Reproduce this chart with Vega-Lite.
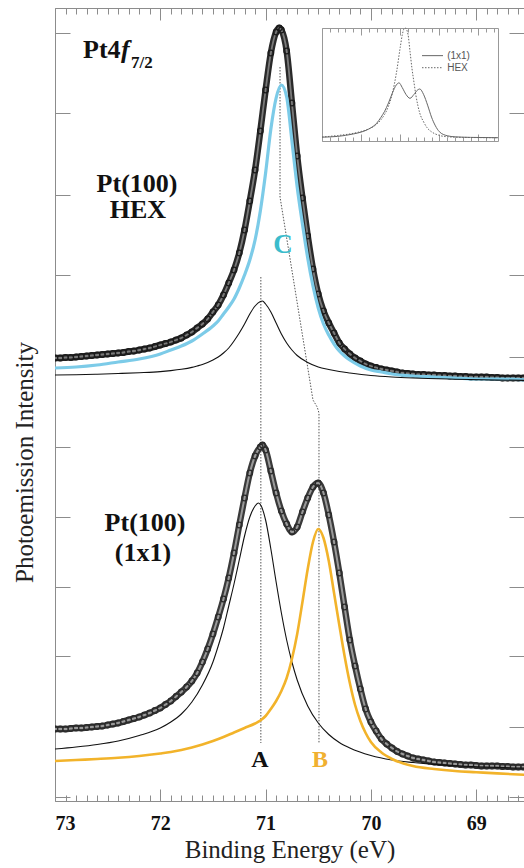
{
"$schema": "https://vega.github.io/schema/vega-lite/v6.json",
"width": 469, "height": 793,
"autosize": {"type": "none"},
"padding": {"left": 55, "top": 8, "right": 0, "bottom": 67},
"background": "white",
"config": {"view": {"stroke": null}, "axis": {"grid": false, "domainColor": "#8c8c8c", "tickColor": "#8c8c8c", "domainWidth": 1, "tickWidth": 1}},
"datasets": {
"hexData": [
{"e":73.0,"i":443},{"e":72.95,"i":443},{"e":72.9,"i":443.5},{"e":72.85,"i":443.5},{"e":72.8,"i":444},{"e":72.75,"i":444.5},{"e":72.7,"i":445},{"e":72.65,"i":445.5},{"e":72.6,"i":446},{"e":72.55,"i":446.5},{"e":72.5,"i":447},{"e":72.45,"i":447.5},{"e":72.4,"i":448},{"e":72.35,"i":448.5},{"e":72.3,"i":449.5},{"e":72.25,"i":450},{"e":72.2,"i":451},{"e":72.15,"i":452},{"e":72.1,"i":453},{"e":72.05,"i":454.5},{"e":72.0,"i":456},{"e":71.95,"i":457.5},{"e":71.9,"i":459},{"e":71.85,"i":461},{"e":71.8,"i":463},{"e":71.75,"i":466},{"e":71.7,"i":469},{"e":71.65,"i":473},{"e":71.6,"i":477},{"e":71.55,"i":482},{"e":71.5,"i":489},{"e":71.45,"i":496},{"e":71.4,"i":506},{"e":71.35,"i":518},{"e":71.3,"i":531},{"e":71.25,"i":548},{"e":71.2,"i":571},{"e":71.15,"i":600},{"e":71.1,"i":631},{"e":71.05,"i":670},{"e":71.0,"i":711},{"e":70.95,"i":748},{"e":70.9,"i":769},{"e":70.87,"i":773},{"e":70.85,"i":771},{"e":70.8,"i":750},{"e":70.75,"i":698},{"e":70.7,"i":645},{"e":70.65,"i":603},{"e":70.6,"i":565},{"e":70.55,"i":532},{"e":70.5,"i":507},{"e":70.45,"i":490},{"e":70.4,"i":478},{"e":70.35,"i":468},{"e":70.3,"i":458},{"e":70.25,"i":452},{"e":70.2,"i":447},{"e":70.15,"i":443},{"e":70.1,"i":440},{"e":70.05,"i":437},{"e":70.0,"i":435},{"e":69.95,"i":433.5},{"e":69.9,"i":432},{"e":69.85,"i":431},{"e":69.8,"i":430},{"e":69.75,"i":429},{"e":69.7,"i":428},{"e":69.65,"i":427.5},{"e":69.6,"i":427},{"e":69.55,"i":426.5},{"e":69.5,"i":426.5},{"e":69.45,"i":426},{"e":69.4,"i":426},{"e":69.35,"i":425.5},{"e":69.3,"i":425.5},{"e":69.25,"i":425},{"e":69.2,"i":425},{"e":69.15,"i":424.5},{"e":69.1,"i":424.5},{"e":69.05,"i":424},{"e":69.0,"i":424},{"e":68.95,"i":424},{"e":68.9,"i":424},{"e":68.85,"i":423.5},{"e":68.8,"i":423.5},{"e":68.75,"i":423},{"e":68.7,"i":423},{"e":68.65,"i":423},{"e":68.6,"i":423},{"e":68.55,"i":423},{"e":68.5,"i":423}],
"hexCyan": [
{"e":73.0,"i":433},{"e":72.8,"i":434},{"e":72.6,"i":436},{"e":72.4,"i":439},{"e":72.2,"i":442},{"e":72.0,"i":447},{"e":71.9,"i":451},{"e":71.8,"i":455},{"e":71.7,"i":460},{"e":71.6,"i":467},{"e":71.5,"i":475},{"e":71.45,"i":480},{"e":71.4,"i":487},{"e":71.35,"i":494},{"e":71.3,"i":502},{"e":71.25,"i":513},{"e":71.2,"i":526},{"e":71.15,"i":541},{"e":71.1,"i":561},{"e":71.05,"i":590},{"e":71.0,"i":628},{"e":70.95,"i":672},{"e":70.9,"i":703},{"e":70.85,"i":716},{"e":70.8,"i":704},{"e":70.75,"i":660},{"e":70.7,"i":614},{"e":70.65,"i":577},{"e":70.6,"i":543},{"e":70.55,"i":515},{"e":70.5,"i":493},{"e":70.45,"i":477},{"e":70.4,"i":466},{"e":70.35,"i":457},{"e":70.3,"i":450},{"e":70.25,"i":445},{"e":70.2,"i":441},{"e":70.1,"i":435},{"e":70.0,"i":431},{"e":69.9,"i":429},{"e":69.8,"i":427},{"e":69.6,"i":425},{"e":69.4,"i":424},{"e":69.2,"i":423},{"e":69.0,"i":422},{"e":68.8,"i":422},{"e":68.5,"i":421}],
"hexComp": [
{"e":73.0,"i":426},{"e":72.8,"i":426.3},{"e":72.6,"i":426.8},{"e":72.4,"i":427.5},{"e":72.2,"i":428.3},{"e":72.0,"i":429.4},{"e":71.9,"i":430.4},{"e":71.8,"i":431.7},{"e":71.7,"i":433.6},{"e":71.65,"i":435},{"e":71.6,"i":436.5},{"e":71.55,"i":438.5},{"e":71.5,"i":441},{"e":71.45,"i":444},{"e":71.4,"i":448},{"e":71.35,"i":453},{"e":71.3,"i":460},{"e":71.25,"i":468},{"e":71.2,"i":477},{"e":71.15,"i":487},{"e":71.1,"i":495},{"e":71.05,"i":499.5},{"e":71.03,"i":500},{"e":71.0,"i":497},{"e":70.95,"i":489},{"e":70.9,"i":478},{"e":70.85,"i":467},{"e":70.8,"i":458},{"e":70.75,"i":451},{"e":70.7,"i":445.5},{"e":70.6,"i":438.5},{"e":70.5,"i":434},{"e":70.4,"i":431.5},{"e":70.3,"i":429.5},{"e":70.2,"i":428},{"e":70.0,"i":425.5},{"e":69.8,"i":424},{"e":69.6,"i":423},{"e":69.2,"i":421.8},{"e":68.8,"i":421},{"e":68.5,"i":420.5}],
"sqData": [
{"e":73.0,"i":72},{"e":72.95,"i":72},{"e":72.9,"i":72},{"e":72.85,"i":72.5},{"e":72.8,"i":73},{"e":72.75,"i":73},{"e":72.7,"i":73.5},{"e":72.65,"i":74},{"e":72.6,"i":74.5},{"e":72.55,"i":75},{"e":72.5,"i":76},{"e":72.45,"i":77},{"e":72.4,"i":78},{"e":72.35,"i":79.5},{"e":72.3,"i":81},{"e":72.25,"i":82.5},{"e":72.2,"i":84},{"e":72.15,"i":86},{"e":72.1,"i":88},{"e":72.05,"i":90.5},{"e":72.0,"i":93},{"e":71.95,"i":96.5},{"e":71.9,"i":100},{"e":71.85,"i":104.5},{"e":71.8,"i":109},{"e":71.75,"i":114},{"e":71.7,"i":120},{"e":71.65,"i":128},{"e":71.6,"i":139},{"e":71.55,"i":152},{"e":71.5,"i":167},{"e":71.45,"i":184},{"e":71.4,"i":202},{"e":71.35,"i":223},{"e":71.3,"i":248},{"e":71.25,"i":276},{"e":71.2,"i":303},{"e":71.15,"i":328},{"e":71.1,"i":345},{"e":71.05,"i":354},{"e":71.03,"i":356},{"e":71.0,"i":351},{"e":70.95,"i":330},{"e":70.9,"i":308},{"e":70.85,"i":290},{"e":70.8,"i":277},{"e":70.75,"i":269},{"e":70.7,"i":274},{"e":70.65,"i":289},{"e":70.6,"i":303},{"e":70.55,"i":314},{"e":70.5,"i":318},{"e":70.45,"i":308},{"e":70.4,"i":286},{"e":70.35,"i":259},{"e":70.3,"i":228},{"e":70.25,"i":194},{"e":70.2,"i":161},{"e":70.15,"i":135},{"e":70.1,"i":112},{"e":70.05,"i":92},{"e":70.0,"i":79},{"e":69.95,"i":70},{"e":69.9,"i":62},{"e":69.85,"i":57},{"e":69.8,"i":53},{"e":69.75,"i":49.5},{"e":69.7,"i":47},{"e":69.65,"i":45},{"e":69.6,"i":43},{"e":69.55,"i":42},{"e":69.5,"i":41},{"e":69.45,"i":40},{"e":69.4,"i":39},{"e":69.35,"i":38.5},{"e":69.3,"i":38},{"e":69.25,"i":37.5},{"e":69.2,"i":37},{"e":69.15,"i":36.5},{"e":69.1,"i":36},{"e":69.05,"i":36},{"e":69.0,"i":35.5},{"e":68.95,"i":35},{"e":68.9,"i":35},{"e":68.85,"i":35},{"e":68.8,"i":35},{"e":68.75,"i":34.5},{"e":68.7,"i":34.5},{"e":68.65,"i":34},{"e":68.6,"i":34},{"e":68.55,"i":34},{"e":68.5,"i":34}],
"sqA": [
{"e":73.0,"i":52},{"e":72.8,"i":54},{"e":72.6,"i":56.5},{"e":72.4,"i":60},{"e":72.2,"i":65.5},{"e":72.0,"i":73},{"e":71.9,"i":79},{"e":71.8,"i":87},{"e":71.7,"i":99},{"e":71.6,"i":116},{"e":71.5,"i":139},{"e":71.45,"i":155},{"e":71.4,"i":173},{"e":71.35,"i":195},{"e":71.3,"i":217},{"e":71.25,"i":241},{"e":71.2,"i":265},{"e":71.15,"i":284},{"e":71.1,"i":295},{"e":71.07,"i":298},{"e":71.05,"i":296.5},{"e":71.0,"i":281},{"e":70.95,"i":252},{"e":70.9,"i":219},{"e":70.85,"i":188},{"e":70.8,"i":161},{"e":70.75,"i":139},{"e":70.7,"i":121},{"e":70.6,"i":95},{"e":70.5,"i":78},{"e":70.4,"i":66.5},{"e":70.3,"i":58.5},{"e":70.2,"i":53},{"e":70.0,"i":45.5},{"e":69.8,"i":41},{"e":69.6,"i":38.5},{"e":69.4,"i":36.6},{"e":69.2,"i":35.3},{"e":69.0,"i":34.3},{"e":68.8,"i":33.6},{"e":68.6,"i":33},{"e":68.5,"i":33}],
"sqB": [
{"e":73.0,"i":40},{"e":72.8,"i":41},{"e":72.6,"i":42},{"e":72.4,"i":43.2},{"e":72.2,"i":45},{"e":72.0,"i":47.5},{"e":71.9,"i":49},{"e":71.8,"i":51},{"e":71.7,"i":53.5},{"e":71.6,"i":56.5},{"e":71.5,"i":60},{"e":71.4,"i":64},{"e":71.3,"i":68.5},{"e":71.2,"i":73},{"e":71.1,"i":77.5},{"e":71.05,"i":80.5},{"e":71.0,"i":85},{"e":70.95,"i":92},{"e":70.9,"i":100},{"e":70.85,"i":110},{"e":70.8,"i":123},{"e":70.75,"i":142},{"e":70.7,"i":167},{"e":70.65,"i":199},{"e":70.6,"i":232},{"e":70.55,"i":259},{"e":70.5,"i":272},{"e":70.45,"i":263},{"e":70.4,"i":240},{"e":70.35,"i":208},{"e":70.3,"i":176},{"e":70.25,"i":145},{"e":70.2,"i":118},{"e":70.15,"i":96},{"e":70.1,"i":80},{"e":70.05,"i":68},{"e":70.0,"i":59},{"e":69.9,"i":48.5},{"e":69.8,"i":42},{"e":69.6,"i":35},{"e":69.4,"i":32},{"e":69.2,"i":30},{"e":69.0,"i":28.8},{"e":68.8,"i":27.6},{"e":68.6,"i":26.5},{"e":68.5,"i":26}],
"ins1": [
{"e":73.0,"i":0.005},{"e":72.6,"i":0.012},{"e":72.2,"i":0.034},{"e":72.0,"i":0.051},{"e":71.8,"i":0.08},{"e":71.6,"i":0.133},{"e":71.5,"i":0.182},{"e":71.4,"i":0.24},{"e":71.3,"i":0.317},{"e":71.2,"i":0.408},{"e":71.1,"i":0.481},{"e":71.03,"i":0.5},{"e":70.95,"i":0.458},{"e":70.85,"i":0.393},{"e":70.75,"i":0.359},{"e":70.65,"i":0.394},{"e":70.55,"i":0.437},{"e":70.5,"i":0.444},{"e":70.4,"i":0.392},{"e":70.3,"i":0.297},{"e":70.2,"i":0.188},{"e":70.1,"i":0.108},{"e":70.0,"i":0.055},{"e":69.8,"i":0.018},{"e":69.6,"i":0.008},{"e":69.2,"i":0.003},{"e":68.5,"i":0.0}],
"insH": [
{"e":73.0,"i":0.006},{"e":72.6,"i":0.02},{"e":72.2,"i":0.04},{"e":72.0,"i":0.057},{"e":71.8,"i":0.081},{"e":71.6,"i":0.124},{"e":71.5,"i":0.161},{"e":71.4,"i":0.212},{"e":71.3,"i":0.288},{"e":71.2,"i":0.407},{"e":71.1,"i":0.585},{"e":71.0,"i":0.823},{"e":70.95,"i":0.933},{"e":70.9,"i":0.995},{"e":70.87,"i":1.0},{"e":70.8,"i":0.94},{"e":70.75,"i":0.787},{"e":70.7,"i":0.632},{"e":70.65,"i":0.508},{"e":70.6,"i":0.389},{"e":70.5,"i":0.224},{"e":70.4,"i":0.143},{"e":70.3,"i":0.085},{"e":70.2,"i":0.054},{"e":70.0,"i":0.021},{"e":69.8,"i":0.009},{"e":69.4,"i":0.003},{"e":68.5,"i":0.0}]
},
"layer": [
{
"encoding": {
"x": {"field": "e", "type": "quantitative", "scale": {"domain": [73, 68.546], "nice": false, "zero": false},
 "axis": {"orient": "bottom", "values": [73,72,71,70,69], "format": "d", "ticks": false, "labelFlush": true, "labelPadding": 12, "labelFont": "Liberation Serif", "labelFontSize": 20, "labelFontWeight": "bold", "labelColor": "#111", "title": "Binding Energy (eV)", "titleFont": "Liberation Serif", "titleFontSize": 25, "titleFontWeight": "normal", "titleColor": "#222", "titleBaseline": "alphabetic", "titleY": 56}},
"y": {"field": "i", "type": "quantitative", "scale": {"domain": [0, 793], "nice": false, "zero": false},
 "axis": {"orient": "left", "values": [768,688,606,526,444,354,284,214,145,74,4], "tickSize": -15, "labels": false, "title": "Photoemission Intensity", "titleFont": "Liberation Serif", "titleFontSize": 25, "titleFontWeight": "normal", "titleColor": "#222", "titleX": -23, "titleY": 454, "titleAlign": "center", "titleBaseline": "alphabetic", "titleAngle": -90}}
},
"layer": [
{"data": {"values": [{"e":71.045,"i":524,"o":1},{"e":71.045,"i":58,"o":2}]}, "mark": {"type": "line", "color": "#555", "strokeWidth": 1, "strokeDash": [1.5, 1.5]}, "encoding": {"order": {"field": "o"}}},
{"data": {"values": [{"e":70.863,"i":734,"o":1},{"e":70.863,"i":604,"o":2},{"e":70.55,"i":401,"o":3},{"e":70.51,"i":394,"o":4},{"e":70.493,"i":388,"o":5},{"e":70.493,"i":58,"o":6}]}, "mark": {"type": "line", "color": "#555", "strokeWidth": 1, "strokeDash": [1.5, 1.5]}, "encoding": {"order": {"field": "o"}}},
{"data": {"name": "hexData"}, "mark": {"type": "line", "color": "#2a2a2a", "strokeWidth": 6.5, "interpolate": "monotone", "clip": true}},
{"data": {"name": "hexData"}, "mark": {"type": "line", "color": "#7a7a7a", "strokeWidth": 1.8, "interpolate": "monotone", "clip": true}},
{"data": {"name": "hexData"}, "mark": {"type": "point", "shape": "circle", "filled": false, "size": 32, "stroke": "#1a1a1a", "strokeWidth": 1.1, "opacity": 1, "clip": true}},
{"data": {"name": "sqData"}, "mark": {"type": "line", "color": "#3a3a3a", "strokeWidth": 6.5, "interpolate": "monotone", "clip": true}},
{"data": {"name": "sqData"}, "mark": {"type": "line", "color": "#9a9a9a", "strokeWidth": 2, "interpolate": "monotone", "clip": true}},
{"data": {"name": "sqData"}, "mark": {"type": "point", "shape": "circle", "filled": false, "size": 32, "stroke": "#2a2a2a", "strokeWidth": 1.1, "opacity": 1, "clip": true}},
{"data": {"name": "hexCyan"}, "mark": {"type": "line", "color": "#7ccbe8", "strokeWidth": 3.2, "interpolate": "monotone", "clip": true}},
{"data": {"name": "hexComp"}, "mark": {"type": "line", "color": "#111", "strokeWidth": 1.1, "interpolate": "monotone", "clip": true}},
{"data": {"name": "sqA"}, "mark": {"type": "line", "color": "#111", "strokeWidth": 1.1, "interpolate": "monotone", "clip": true}},
{"data": {"name": "sqB"}, "mark": {"type": "line", "color": "#f2b32a", "strokeWidth": 2.6, "interpolate": "monotone", "clip": true}},
{"data": {"values": [{"e":72.221,"i":609,"t":"Pt(100)"},{"e":72.212,"i":583,"t":"HEX"},{"e":72.145,"i":270,"t":"Pt(100)"},{"e":72.164,"i":240,"t":"(1x1)"}]}, "mark": {"type": "text", "font": "Liberation Serif", "fontSize": 26, "fontWeight": "bold", "color": "#111", "align": "center", "baseline": "alphabetic"}, "encoding": {"text": {"field": "t"}}},
{"data": {"values": [{"e":72.734,"i":743,"t":"Pt4"}]}, "mark": {"type": "text", "font": "Liberation Serif", "fontSize": 26, "fontWeight": "bold", "color": "#111", "align": "left", "baseline": "alphabetic"}, "encoding": {"text": {"field": "t"}}},
{"data": {"values": [{"e":72.373,"i":743,"t":"f"}]}, "mark": {"type": "text", "font": "Liberation Serif", "fontSize": 26, "fontWeight": "bold", "fontStyle": "italic", "color": "#111", "align": "left", "baseline": "alphabetic"}, "encoding": {"text": {"field": "t"}}},
{"data": {"values": [{"e":72.278,"i":733,"t":"7/2"}]}, "mark": {"type": "text", "font": "Liberation Serif", "fontSize": 17, "fontWeight": "bold", "color": "#111", "align": "left", "baseline": "alphabetic"}, "encoding": {"text": {"field": "t"}}},
{"data": {"values": [{"e":70.835,"i":556,"t":"C"}]}, "mark": {"type": "text", "font": "Liberation Serif", "fontSize": 27, "fontWeight": "bold", "color": "#3bbccc", "align": "center", "baseline": "middle"}, "encoding": {"text": {"field": "t"}}},
{"data": {"values": [{"e":71.053,"i":34,"t":"A"}]}, "mark": {"type": "text", "font": "Liberation Serif", "fontSize": 24, "fontWeight": "bold", "color": "#111", "align": "center", "baseline": "alphabetic"}, "encoding": {"text": {"field": "t"}}},
{"data": {"values": [{"e":70.483,"i":34,"t":"B"}]}, "mark": {"type": "text", "font": "Liberation Serif", "fontSize": 24, "fontWeight": "bold", "color": "#f0b030", "align": "center", "baseline": "alphabetic"}, "encoding": {"text": {"field": "t"}}}
]
},
{"data": {"values": [{"e":73,"i":0}]}, "mark": {"type": "point", "opacity": 0},
 "encoding": {
 "x": {"field": "e", "type": "quantitative", "scale": {"domain": [73, 68.546], "nice": false, "zero": false}, "axis": {"orient": "bottom", "values": [73,72,71,70,69], "tickSize": -12, "labels": false, "domain": false, "title": null}},
 "y": {"field": "i", "type": "quantitative", "scale": {"domain": [0, 793], "nice": false, "zero": false}, "axis": {"orient": "right", "values": [768,688,606,526,444,354,284,214,145,74,4], "tickSize": -15, "labels": false, "title": null}}}},
{"data": {"values": [{"e":73}]}, "mark": {"type": "point", "opacity": 0},
 "encoding": {"x": {"field": "e", "type": "quantitative", "scale": {"domain": [73, 68.546], "nice": false, "zero": false}, "axis": {"orient": "bottom", "values": [73,72.9,72.8,72.7,72.6,72.5,72.4,72.3,72.2,72.1,72,71.9,71.8,71.7,71.6,71.5,71.4,71.3,71.2,71.1,71,70.9,70.8,70.7,70.6,70.5,70.4,70.3,70.2,70.1,70,69.9,69.8,69.7,69.6,69.5,69.4,69.3,69.2,69.1,69,68.9,68.8,68.7,68.6], "tickSize": -6, "labels": false, "domain": false, "title": null}}}},
{"data": {"values": [{"e":73}]}, "mark": {"type": "point", "opacity": 0},
 "encoding": {"x": {"field": "e", "type": "quantitative", "scale": {"domain": [73, 68.546], "nice": false, "zero": false}, "axis": {"orient": "top", "values": [73,72,71,70,69], "tickSize": -12, "labels": false, "domain": true, "title": null}}}},
{"data": {"values": [{"e":73}]}, "mark": {"type": "point", "opacity": 0},
 "encoding": {"x": {"field": "e", "type": "quantitative", "scale": {"domain": [73, 68.546], "nice": false, "zero": false}, "axis": {"orient": "top", "values": [73,72.9,72.8,72.7,72.6,72.5,72.4,72.3,72.2,72.1,72,71.9,71.8,71.7,71.6,71.5,71.4,71.3,71.2,71.1,71,70.9,70.8,70.7,70.6,70.5,70.4,70.3,70.2,70.1,70,69.9,69.8,69.7,69.6,69.5,69.4,69.3,69.2,69.1,69,68.9,68.8,68.7,68.6], "tickSize": -6, "labels": false, "domain": false, "title": null}}}},
{
"encoding": {
"x": {"field": "e", "type": "quantitative", "scale": {"domain": [73, 68.5], "range": [267, 443], "nice": false, "zero": false},
 "axis": {"orient": "bottom", "offset": -660, "values": [73,72.8,72.6,72.4,72.2,72,71.8,71.6,71.4,71.2,71,70.8,70.6,70.4,70.2,70,69.8,69.6,69.4,69.2,69,68.8,68.6], "tickSize": -4, "labels": false, "title": null, "domainColor": "#999", "tickColor": "#999"}},
"y": {"field": "i", "type": "quantitative", "scale": {"domain": [-0.03, 1], "range": [133, 20], "nice": false, "zero": false},
 "axis": {"orient": "left", "offset": -267, "ticks": false, "labels": false, "title": null, "domainColor": "#999"}}
},
"layer": [
{"data": {"name": "ins1"}, "mark": {"type": "line", "color": "#666", "strokeWidth": 1, "interpolate": "monotone"}},
{"data": {"name": "insH"}, "mark": {"type": "line", "color": "#666", "strokeWidth": 1, "strokeDash": [1.5, 1.5], "interpolate": "monotone"}},
{"data": {"values": [{"e":70.443,"i":0.748},{"e":69.906,"i":0.748}]}, "mark": {"type": "line", "color": "#666", "strokeWidth": 1}},
{"data": {"values": [{"e":70.443,"i":0.638},{"e":69.906,"i":0.638}]}, "mark": {"type": "line", "color": "#666", "strokeWidth": 1, "strokeDash": [1.5, 1.5]}},
{"data": {"values": [{"e":69.8,"i":0.748,"t":"(1x1)"},{"e":69.8,"i":0.638,"t":"HEX"}]}, "mark": {"type": "text", "font": "Liberation Sans", "fontSize": 10, "color": "#555", "align": "left", "baseline": "middle"}, "encoding": {"text": {"field": "t"}}}
]
},
{"data": {"values": [{"e":73,"i":0}]}, "mark": {"type": "point", "opacity": 0},
 "encoding": {
 "x": {"field": "e", "type": "quantitative", "scale": {"domain": [73, 68.5], "range": [267, 443], "nice": false, "zero": false}, "axis": {"orient": "top", "offset": -20, "values": [73,72.8,72.6,72.4,72.2,72,71.8,71.6,71.4,71.2,71,70.8,70.6,70.4,70.2,70,69.8,69.6,69.4,69.2,69,68.8,68.6], "tickSize": -4, "labels": false, "title": null, "domainColor": "#999", "tickColor": "#999"}},
 "y": {"field": "i", "type": "quantitative", "scale": {"domain": [-0.03, 1], "range": [133, 20], "nice": false, "zero": false}, "axis": {"orient": "right", "offset": -26, "ticks": false, "labels": false, "title": null, "domainColor": "#999"}}}},
{"data": {"values": [{"e":73}]}, "mark": {"type": "point", "opacity": 0},
 "encoding": {"x": {"field": "e", "type": "quantitative", "scale": {"domain": [73, 68.5], "range": [267, 443], "nice": false, "zero": false}, "axis": {"orient": "bottom", "offset": -660, "values": [72,71,70,69], "tickSize": -7, "labels": false, "domain": false, "title": null, "tickColor": "#999"}}}},
{"data": {"values": [{"e":73}]}, "mark": {"type": "point", "opacity": 0},
 "encoding": {"x": {"field": "e", "type": "quantitative", "scale": {"domain": [73, 68.5], "range": [267, 443], "nice": false, "zero": false}, "axis": {"orient": "top", "offset": -20, "values": [72,71,70,69], "tickSize": -7, "labels": false, "domain": false, "title": null, "tickColor": "#999"}}}}
],
"resolve": {"scale": {"x": "independent", "y": "independent"}}
}
